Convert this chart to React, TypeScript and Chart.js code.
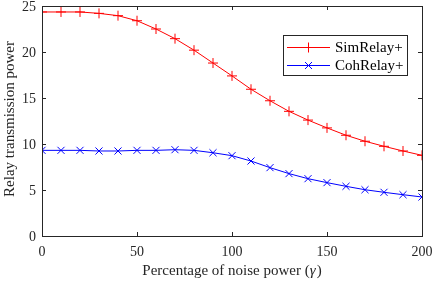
import React, { useEffect, useRef } from "react";
import { Chart, registerables } from "chart.js";

Chart.register(...registerables);

const xValues = [0, 10, 20, 30, 40, 50, 60, 70, 80, 90, 100, 110, 120, 130, 140, 150, 160, 170, 180, 190, 200];
const simRelay = [24.35, 24.35, 24.35, 24.2, 23.95, 23.4, 22.5, 21.45, 20.2, 18.8, 17.4, 15.95, 14.7, 13.55, 12.6, 11.75, 10.95, 10.3, 9.75, 9.24, 8.77];
const cohRelay = [9.31, 9.31, 9.31, 9.24, 9.24, 9.31, 9.31, 9.38, 9.31, 9.05, 8.73, 8.15, 7.43, 6.78, 6.23, 5.8, 5.4, 5.03, 4.75, 4.49, 4.24];
const seriesNames = ["SimRelay+", "CohRelay+"];
const xTicks = [0, 50, 100, 150, 200];
const yTicks = [0, 5, 10, 15, 20, 25];
const xTitle = "Percentage of noise power (";
const xTitleSym = "γ";
const yTitle = "Relay transmission power";

const FONT = "'Liberation Serif', 'Times New Roman', serif";
const TEXT = "#262626";

export default function App() {
  const ref = useRef<HTMLCanvasElement | null>(null);
  useEffect(() => {
    document.body.style.margin = "0";
    const canvas = ref.current;
    if (!canvas) return;

    const framePlugin = {
      id: "frame",
      afterDraw(chart: any) {
        const { ctx, chartArea } = chart;
        const { left, right, top, bottom } = chartArea;
        const xs = chart.scales.x;
        const ys = chart.scales.y;
        ctx.save();
        ctx.strokeStyle = TEXT;
        ctx.lineWidth = 1;
        ctx.strokeRect(Math.round(left) + 0.5, Math.round(top) + 0.5, Math.round(right - left), Math.round(bottom - top));
        const tl = 4;
        ctx.beginPath();
        xTicks.forEach((v) => {
          const px = Math.round(xs.getPixelForValue(v)) + 0.5;
          ctx.moveTo(px, bottom);
          ctx.lineTo(px, bottom - tl);
          ctx.moveTo(px, top);
          ctx.lineTo(px, top + tl);
        });
        yTicks.forEach((v) => {
          const py = Math.round(ys.getPixelForValue(v)) + 0.5;
          ctx.moveTo(left, py);
          ctx.lineTo(left + tl, py);
          ctx.moveTo(right, py);
          ctx.lineTo(right - tl, py);
        });
        ctx.stroke();

        // tick labels
        ctx.fillStyle = TEXT;
        ctx.font = `14px ${FONT}`;
        ctx.textBaseline = "middle";
        ctx.textAlign = "center";
        xTicks.forEach((v) => {
          ctx.fillText(String(v), xs.getPixelForValue(v), bottom + 16);
        });
        ctx.textAlign = "right";
        yTicks.forEach((v) => {
          ctx.fillText(String(v), left - 6, ys.getPixelForValue(v) + 1);
        });

        // y title
        ctx.save();
        ctx.translate(10, (top + bottom) / 2 - 2);
        ctx.rotate(-Math.PI / 2);
        ctx.textAlign = "center";
        ctx.textBaseline = "middle";
        ctx.font = `15px ${FONT}`;
        ctx.fillText(yTitle, 0, 0);
        ctx.restore();

        // x title with italic gamma
        ctx.textBaseline = "middle";
        ctx.font = `15px ${FONT}`;
        const w1 = ctx.measureText(xTitle).width;
        ctx.font = `italic 15px ${FONT}`;
        const w2 = ctx.measureText(xTitleSym).width;
        ctx.font = `15px ${FONT}`;
        const w3 = ctx.measureText(")").width;
        const total = w1 + w2 + w3 + 1;
        let sx = (left + right) / 2 - total / 2;
        const ty = 271;
        ctx.textAlign = "left";
        ctx.fillText(xTitle, sx, ty);
        sx += w1;
        ctx.font = `italic 15px ${FONT}`;
        ctx.fillText(xTitleSym, sx, ty);
        sx += w2 + 1;
        ctx.font = `15px ${FONT}`;
        ctx.fillText(")", sx, ty);

        // legend
        const lx = 283, ly = 35, lw = 124, lh = 40;
        ctx.fillStyle = "#ffffff";
        ctx.fillRect(lx, ly, lw, lh);
        ctx.strokeStyle = TEXT;
        ctx.strokeRect(lx + 0.5, ly + 0.5, lw, lh);
        const rows = [
          { name: seriesNames[0], color: "#ff0000", style: "plus", y: 47 },
          { name: seriesNames[1], color: "#0000ff", style: "x", y: 65 },
        ];
        rows.forEach((r) => {
          ctx.strokeStyle = r.color;
          ctx.lineWidth = 1;
          ctx.beginPath();
          ctx.moveTo(287, r.y + 0.5);
          ctx.lineTo(330, r.y + 0.5);
          const mx = 308.5, my = r.y + 0.5;
          if (r.style === "plus") {
            ctx.moveTo(mx - 5, my);
            ctx.lineTo(mx + 5, my);
            ctx.moveTo(mx, my - 5);
            ctx.lineTo(mx, my + 5);
          } else {
            ctx.moveTo(mx - 3.5, my - 3.5);
            ctx.lineTo(mx + 3.5, my + 3.5);
            ctx.moveTo(mx - 3.5, my + 3.5);
            ctx.lineTo(mx + 3.5, my - 3.5);
          }
          ctx.stroke();
          ctx.fillStyle = "#000000";
          ctx.font = `15px ${FONT}`;
          ctx.textAlign = "left";
          ctx.textBaseline = "middle";
          ctx.fillText(r.name, 335, r.y + 1);
        });
        ctx.restore();
      },
    };

    const chart = new Chart(canvas, {
      type: "line",
      data: {
        labels: xValues,
        datasets: [
          {
            label: seriesNames[0],
            data: xValues.map((x, i) => ({ x, y: simRelay[i] })),
            borderColor: "#ff0000",
            backgroundColor: "#ff0000",
            borderWidth: 1,
            pointStyle: "cross",
            pointRadius: 5,
            pointBorderWidth: 1,
            pointBorderColor: "#ff0000",
            tension: 0,
          },
          {
            label: seriesNames[1],
            data: xValues.map((x, i) => ({ x, y: cohRelay[i] })),
            borderColor: "#0000ff",
            backgroundColor: "#0000ff",
            borderWidth: 1,
            pointStyle: "crossRot",
            pointRadius: 5,
            pointBorderWidth: 1,
            pointBorderColor: "#0000ff",
            tension: 0,
          },
        ],
      },
      options: {
        animation: false,
        responsive: false,
        devicePixelRatio: 1,
        layout: { padding: { left: 0, right: 14, top: 6, bottom: 0 } },
        plugins: { legend: { display: false }, tooltip: { enabled: false } },
        scales: {
          x: {
            type: "linear",
            min: 0,
            max: 200,
            afterFit: (s: any) => { s.height = 45; },
            grid: { display: false, drawTicks: false },
            border: { display: false },
            ticks: { display: false },
          },
          y: {
            type: "linear",
            min: 0,
            max: 25,
            afterFit: (s: any) => { s.width = 42; },
            grid: { display: false, drawTicks: false },
            border: { display: false },
            ticks: { display: false },
          },
        },
      },
      plugins: [framePlugin],
    });
    return () => chart.destroy();
  }, []);

  return (
    <div style={{ width: 436, height: 281 }}>
      <canvas ref={ref} width={436} height={281} style={{ width: 436, height: 281, display: "block" }} />
    </div>
  );
}
